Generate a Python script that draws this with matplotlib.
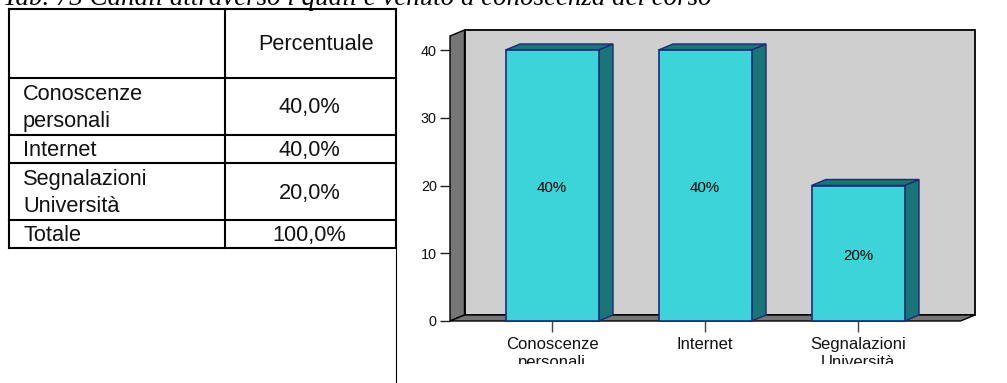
import matplotlib
matplotlib.use("Agg")
import matplotlib.pyplot as plt
from matplotlib.patches import Polygon, Rectangle
from matplotlib.transforms import Affine2D, Bbox

plt.rcParams['font.family'] = ['Liberation Sans', 'DejaVu Sans']

W, H = 1007, 383
categories = ["Conoscenze\npersonali", "Internet", "Segnalazioni\nUniversità"]
values = [40, 40, 20]
value_labels = ["40%", "40%", "20%"]
yticks = [0, 10, 20, 30, 40]
table_rows = ["Conoscenze\npersonali", "Internet", "Segnalazioni\nUniversità", "Totale"]
table_vals = ["40,0%", "40,0%", "20,0%", "100,0%"]
table_head = "Percentuale"
title = "Tab. 73 Canali attraverso i quali è venuto a conoscenza del corso"

fig = plt.figure(figsize=(W / 100, H / 100), dpi=100, facecolor="white")

# page overlay in pixel coordinates (table + caption)
pg = fig.add_axes([0, 0, 1, 1])
pg.set_xlim(0, W); pg.set_ylim(H, 0); pg.axis("off")
pg.text(3, 5, title, family="Liberation Serif", style="italic", fontsize=19.4,
        va="baseline", ha="left", color="black", clip_on=True)
col_x = [8.5, 225, 396]
row_y = [9, 78, 135, 163, 220, 248]
for y in row_y:
    pg.plot([col_x[0], col_x[-1]], [y, y], color="black", lw=1.5, solid_capstyle="projecting")
for x in col_x:
    pg.plot([x, x], [row_y[0], row_y[-1]], color="black", lw=1.5, solid_capstyle="projecting")
pg.plot([396, 396], [248, H], color="black", lw=0.8)
pg.text(316, 45, table_head, ha="center", va="center", fontsize=15.7, color="#111111")
val_x = 309.5
for i, (lab, val) in enumerate(zip(table_rows, table_vals)):
    y0, y1 = row_y[i + 1], row_y[i + 2]
    pg.text(23, (y0 + y1) / 2 + 1.2, lab, ha="left", va="center", fontsize=15.7,
            linespacing=1.4, color="#111111")
    pg.text(val_x, (y0 + y1) / 2 + 1.5, val, ha="center", va="center", fontsize=15.7, color="#111111")

# chart: the axes is the front plane of the 3-D frame
px0, px1, py_top, py_bot = 450, 960.5, 50, 321
ax = fig.add_axes([px0 / W, 1 - py_bot / H, (px1 - px0) / W, (py_bot - py_top) / H])
ax.set_xlim((px0 - 552) / 153, (px1 - 552) / 153)
ax.set_ylim(0, 40)
ax.patch.set_visible(False)
for s in ax.spines.values():
    s.set_visible(False)

DX, DY = 14.5, 6
wall_top = 40 + (50 - 36) * 40 / 271   # data height of the wall's front edge

def depth(x0, y0, x1, y1, **kw):
    """Parallelogram between two data points, extruded backwards in pixels."""
    a = ax.transData.transform([(x0, y0), (x1, y1)])
    pts = [a[0], a[1], a[1] + (DX, DY), a[0] + (DX, DY)]
    ax.add_patch(Polygon(pts, closed=True, transform=Affine2D(), clip_on=False, **kw))

xl, xr = ax.get_xlim()
edge = "black"
back = Affine2D().translate(DX, DY)
ax.add_patch(Rectangle((xl, 0), xr - xl, wall_top, transform=ax.transData + back,
                       fc="#cfcfcf", ec=edge, lw=1.3, clip_on=False, zorder=1))
depth(xl, 0, xl, wall_top, fc="#767676", ec=edge, lw=1.0, zorder=1.5)
depth(xl, 0, xr, 0, fc="#767676", ec=edge, lw=1.0, zorder=1.5)

bw = 93 / 153
navy = "#1c2a7a"
for i, v in enumerate(values):
    ax.bar(i, v, width=bw, color="#3bd4d8", edgecolor=navy, lw=1.2, zorder=3, clip_on=False)
    depth(i + bw / 2, 0, i + bw / 2, v, fc="#1a7578", ec=navy, lw=1.0, zorder=2.5)
    depth(i - bw / 2, v, i + bw / 2, v, fc="#1a7578", ec=navy, lw=1.0, zorder=2.5)
    ax.annotate(value_labels[i], (i, v / 2), xytext=(0, -2), textcoords="offset points",
                ha="center", va="center", fontsize=10.8, color="black", zorder=4)

ax.set_yticks(yticks)
ax.set_xticks(range(len(categories)))
ax.set_xticklabels(categories, fontsize=12, linespacing=1.2, color="#111111")
ax.tick_params(axis="y", length=7.5, width=1.0, color="#222222", labelsize=10.4,
               labelcolor="#111111", pad=2)
ax.tick_params(axis="x", length=8, width=1.0, color="#444444", pad=3.6)
clip = Bbox.from_extents(0, H - 364, W, H)
for t in ax.get_xticklabels():
    t.set_clip_box(clip)
    t.set_clip_on(True)

fig.savefig("out.png", dpi=100)
